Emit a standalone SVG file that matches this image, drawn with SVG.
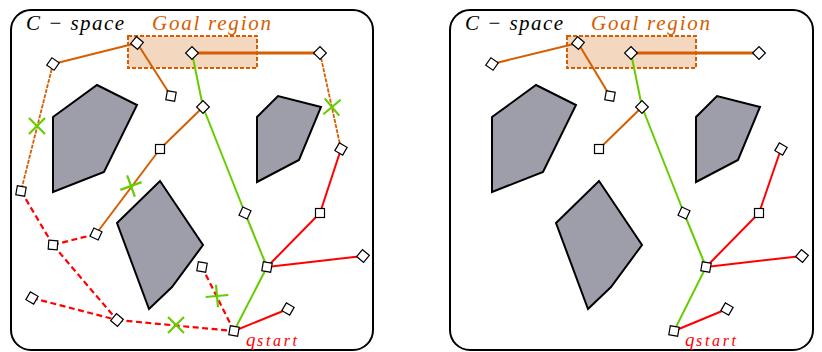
<svg xmlns="http://www.w3.org/2000/svg" xmlns:xlink="http://www.w3.org/1999/xlink" width="822" height="352" viewBox="0 0 822 352">
<style>
.panel{fill:#fff;stroke:#000;stroke-width:2}
.obs{fill:#9e9eaa;stroke:#000;stroke-width:2;stroke-linejoin:miter}
.goal{fill:#d55e00;fill-opacity:0.25;stroke:#d55e00;stroke-width:2;stroke-dasharray:4 2}
.or{stroke:#d55e00;stroke-width:2;fill:none}
.orT{stroke:#d55e00;stroke-width:3;fill:none}
.orD{stroke:#d55e00;stroke-width:1.8;stroke-dasharray:4 1.2;fill:none}
.gr{stroke:#66cc00;stroke-width:2;fill:none}
.rd{stroke:#ff0000;stroke-width:2;fill:none}
.rdD{stroke:#ff0000;stroke-width:2.2;stroke-dasharray:6 3.5;fill:none}
.nd{fill:#fff;stroke:#000;stroke-width:1.2}
.x{stroke:#66cc00;stroke-width:2.2;fill:none}
.lbl{font-family:"Liberation Serif",serif;font-style:italic}
</style>
<defs>
<rect id="n" class="nd" x="-4.5" y="-4.5" width="9" height="9"/>
<path id="cross" class="x" d="M-8,-8 L8,8 M-8,8 L8,-8"/>
<g id="obstacles">
<polygon class="obs" points="53,117 97,85 137,105 104,172 53,192"/>
<polygon class="obs" points="117,223 160,181 203,245 172,287 149,309"/>
<polygon class="obs" points="257,117 278,96 321,107 299,160 257,182"/>
</g>
</defs>

<!-- Left panel -->
<g id="panel-left">
<rect class="panel" x="11" y="10" width="362" height="340" rx="20"/>
<use xlink:href="#obstacles"/>
<rect class="goal" x="128" y="36" width="129" height="32"/>
<text class="lbl" x="26" y="30" font-size="21" textLength="98" lengthAdjust="spacing">C − space</text>
<text class="lbl" x="152" y="30" font-size="21" fill="#d55e00" textLength="119" lengthAdjust="spacing">Goal region</text>
<text class="lbl" fill="#ff0000"><tspan x="246" y="346" font-size="19">q</tspan><tspan x="257" y="346" font-size="16" textLength="40" lengthAdjust="spacing">start</tspan></text>
</g>

<g id="connectors-left">
<line class="or" x1="137" y1="43" x2="53" y2="64"/>
<line class="or" x1="137" y1="43" x2="171" y2="96"/>
<line class="or" x1="203" y1="107" x2="160" y2="149"/>
<line class="or" x1="160" y1="149" x2="96" y2="234"/>
<line class="orT" x1="192" y1="53" x2="320" y2="53"/>
<line class="orD" x1="53" y1="64" x2="21" y2="191"/>
<line class="orD" x1="320" y1="53" x2="341" y2="149"/>
<line class="gr" x1="192" y1="53" x2="203" y2="107"/>
<line class="gr" x1="203" y1="107" x2="245" y2="213"/>
<line class="gr" x1="245" y1="213" x2="267" y2="267"/>
<line class="gr" x1="267" y1="267" x2="234" y2="331"/>
<line class="rd" x1="341" y1="149" x2="320" y2="213"/>
<line class="rd" x1="320" y1="213" x2="267" y2="267"/>
<line class="rd" x1="267" y1="267" x2="363" y2="256"/>
<line class="rd" x1="234" y1="331" x2="288" y2="309"/>
<line class="rdD" x1="21" y1="191" x2="53" y2="245"/>
<line class="rdD" x1="53" y1="245" x2="96" y2="234"/>
<line class="rdD" x1="53" y1="245" x2="117" y2="320"/>
<line class="rdD" x1="32" y1="298" x2="117" y2="320"/>
<line class="rdD" x1="117" y1="320" x2="234" y2="331"/>
<line class="rdD" x1="234" y1="331" x2="202" y2="267"/>
</g>

<g id="crosses-left">
<use xlink:href="#cross" transform="translate(37,126)"/>
<use xlink:href="#cross" transform="translate(332,107) rotate(5)"/>
<use xlink:href="#cross" transform="translate(131,186) rotate(25)"/>
<use xlink:href="#cross" transform="translate(176,325)"/>
<use xlink:href="#cross" transform="translate(217,296) rotate(40)"/>
</g>

<g id="L-A"><use xlink:href="#n" transform="translate(137,43) rotate(40)"/></g>
<g id="L-B"><use xlink:href="#n" transform="translate(53,64) rotate(35)"/></g>
<g id="L-C"><use xlink:href="#n" transform="translate(171,96) rotate(10)"/></g>
<g id="L-D"><use xlink:href="#n" transform="translate(192,53) rotate(45)"/></g>
<g id="L-E"><use xlink:href="#n" transform="translate(320,53) rotate(45)"/></g>
<g id="L-F"><use xlink:href="#n" transform="translate(203,107) rotate(45)"/></g>
<g id="L-G"><use xlink:href="#n" transform="translate(160,149)"/></g>
<g id="L-H"><use xlink:href="#n" transform="translate(341,149) rotate(30)"/></g>
<g id="L-I"><use xlink:href="#n" transform="translate(21,191) rotate(10)"/></g>
<g id="L-J"><use xlink:href="#n" transform="translate(53,245) rotate(4)"/></g>
<g id="L-K"><use xlink:href="#n" transform="translate(96,234) rotate(25)"/></g>
<g id="L-L"><use xlink:href="#n" transform="translate(32,298) rotate(30)"/></g>
<g id="L-M"><use xlink:href="#n" transform="translate(117,320) rotate(40)"/></g>
<g id="L-N"><use xlink:href="#n" transform="translate(234,331) rotate(10)"/></g>
<g id="L-O"><use xlink:href="#n" transform="translate(202,267) rotate(10)"/></g>
<g id="L-P"><use xlink:href="#n" transform="translate(288,309) rotate(30)"/></g>
<g id="L-Q"><use xlink:href="#n" transform="translate(267,267) rotate(10)"/></g>
<g id="L-R"><use xlink:href="#n" transform="translate(245,213) rotate(25)"/></g>
<g id="L-S"><use xlink:href="#n" transform="translate(320,213)"/></g>
<g id="L-T"><use xlink:href="#n" transform="translate(363,256) rotate(40)"/></g>

<!-- Right panel -->
<g id="panel-right">
<rect class="panel" x="450" y="10" width="363" height="340" rx="20"/>
<use xlink:href="#obstacles" transform="translate(439,0)"/>
<rect class="goal" x="567" y="36" width="129" height="32"/>
<text class="lbl" x="465" y="30" font-size="21" textLength="98" lengthAdjust="spacing">C − space</text>
<text class="lbl" x="591" y="30" font-size="21" fill="#d55e00" textLength="119" lengthAdjust="spacing">Goal region</text>
<text class="lbl" fill="#ff0000"><tspan x="685" y="346" font-size="19">q</tspan><tspan x="696" y="346" font-size="16" textLength="40" lengthAdjust="spacing">start</tspan></text>
</g>

<g id="connectors-right">
<line class="or" x1="578" y1="43" x2="492" y2="64"/>
<line class="or" x1="578" y1="43" x2="610" y2="96"/>
<line class="or" x1="642" y1="107" x2="599" y2="149"/>
<line class="orT" x1="631" y1="53" x2="759" y2="53"/>
<line class="gr" x1="631" y1="53" x2="642" y2="107"/>
<line class="gr" x1="642" y1="107" x2="684" y2="213"/>
<line class="gr" x1="684" y1="213" x2="706" y2="267"/>
<line class="gr" x1="706" y1="267" x2="674" y2="331"/>
<line class="rd" x1="781" y1="149" x2="759" y2="213"/>
<line class="rd" x1="759" y1="213" x2="706" y2="267"/>
<line class="rd" x1="706" y1="267" x2="802" y2="256"/>
<line class="rd" x1="674" y1="331" x2="727" y2="309"/>
</g>

<g id="R-A"><use xlink:href="#n" transform="translate(578,43) rotate(40)"/></g>
<g id="R-B"><use xlink:href="#n" transform="translate(492,64) rotate(35)"/></g>
<g id="R-C"><use xlink:href="#n" transform="translate(610,96) rotate(10)"/></g>
<g id="R-D"><use xlink:href="#n" transform="translate(631,53) rotate(45)"/></g>
<g id="R-E"><use xlink:href="#n" transform="translate(759,53) rotate(45)"/></g>
<g id="R-F"><use xlink:href="#n" transform="translate(642,107) rotate(45)"/></g>
<g id="R-G"><use xlink:href="#n" transform="translate(599,149)"/></g>
<g id="R-H"><use xlink:href="#n" transform="translate(781,149) rotate(30)"/></g>
<g id="R-N"><use xlink:href="#n" transform="translate(674,331) rotate(10)"/></g>
<g id="R-P"><use xlink:href="#n" transform="translate(727,309) rotate(30)"/></g>
<g id="R-Q"><use xlink:href="#n" transform="translate(706,267) rotate(10)"/></g>
<g id="R-R"><use xlink:href="#n" transform="translate(684,213) rotate(25)"/></g>
<g id="R-S"><use xlink:href="#n" transform="translate(759,213)"/></g>
<g id="R-T"><use xlink:href="#n" transform="translate(802,256) rotate(40)"/></g>
</svg>
